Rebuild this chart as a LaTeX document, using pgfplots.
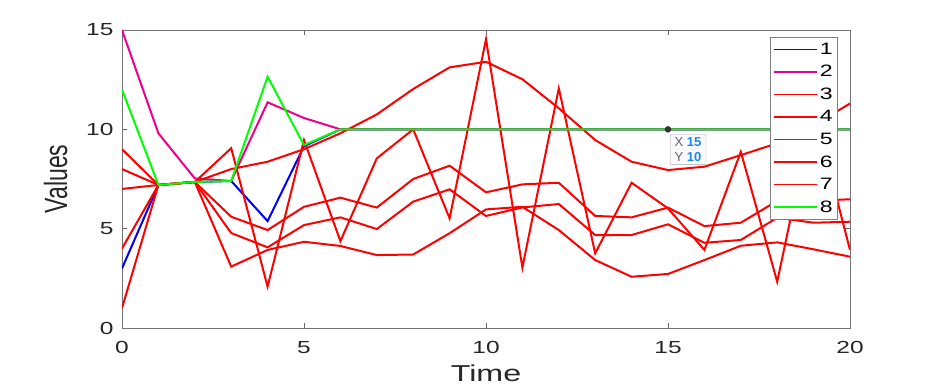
\documentclass[border=0pt]{standalone}
\usepackage{fontspec}
\setmainfont{Liberation Sans}
\usepackage{pgfplots}
\usepackage{pgfplotstable}
\pgfplotsset{compat=1.18}
\usepackage{graphicx}

\definecolor{tipblue}{RGB}{20,140,230}
\newcommand{\tk}[1]{\scalebox{1.4}[1]{#1}}

% columns: time, series 1..8
\pgfplotstableread{
x  s1    s2    s3    s4    s5    s6    s7    s8
0  3     15    9     8     7     4     1     12
1  7.2   9.8   7.2   7.2   7.2   7.2   7.2   7.2
2  7.35  7.53  7.35  7.35  7.35  7.35  7.35  7.35
3  7.4   7.4   9.05  8.0   5.6   4.78  3.09  7.4
4  5.38  11.36 2.08  8.37  4.93  4.06  3.93  12.65
5  9.15  10.57 9.46  9.0   6.1   5.18  4.34  9.21
6  10    10    4.37  9.8   6.56  5.57  4.13  10
7  10    10    8.54  10.75 6.06  4.98  3.67  10
8  10    10    10.0  12.03 7.5   6.36  3.7   10
9  10    10    5.52  13.12 8.17  6.98  4.77  10
10 10    10    14.54 13.4  6.83  5.64  5.97  10
11 10    10    3.04  12.52 7.23  6.07  6.1   10
12 10    10    12.06 11.06 7.31  6.24  4.93  10
13 10    10    3.76  9.46  5.64  4.68  3.42  10
14 10    10    7.31  8.37  5.57  4.68  2.58  10
15 10    10    6.02  7.95  6.06  5.22  2.72  10
16 10    10    3.93  8.12  5.13  4.29  3.42  10
17 10    10    8.87  8.7   5.3   4.43  4.14  10
18 10    10    2.33  9.3   6.4   5.55  4.31  10
19 10    10    11    10.2  6.4   5.3   3.96  10
20 10    10    3.93  11.3  6.48  5.35  3.59  10
}\datatable

\begin{document}
\begin{tikzpicture}
\useasboundingbox (-122pt,-60pt) rectangle (819pt,328pt);
\begin{axis}[
  at={(0,0)}, anchor=south west,
  width=728pt, height=298pt, scale only axis,
  xmin=0, xmax=20, ymin=0, ymax=15,
  xtick={0,5,10,15,20}, ytick={0,5,10,15},
  /pgf/number format/assume math mode=true,
  xticklabel={\tk{\pgfmathprintnumber{\tick}}},
  yticklabel={\tk{\pgfmathprintnumber{\tick}}},
  ticklabel style={font=\fontsize{17.5}{18}\selectfont, text=black!85},
  xticklabel style={yshift=-10pt},
  yticklabel style={xshift=-5pt},
  tick align=inside, major tick length=5pt,
  axis line style={black!55, line width=0.8pt},
  tick style={black!60, line width=0.8pt},
  xlabel={\tk{Time}},
  ylabel={\scalebox{1}[1.4]{Values}},
  label style={font=\fontsize{23}{24}\selectfont, text=black!85},
  xlabel style={yshift=-4pt},
  ylabel style={yshift=12pt},
  every axis plot/.append style={line width=2pt},
  legend cell align=left,
  legend style={at={(1,1)}, anchor=north east, xshift=-12pt, yshift=-7pt,
    draw=black!50, fill=white, line width=0.8pt,
    font=\fontsize{16.5}{17}\selectfont, row sep=5.6pt,
    inner xsep=3pt, inner ysep=3.5pt},
  legend image code/.code={\draw[#1, line width=1.6pt] (0pt,0pt) -- (43pt,0pt);},
]
\addplot[blue]      table[x=x, y=s1] {\datatable};
\addplot[magenta]   table[x=x, y=s2] {\datatable};
\addplot[red]       table[x=x, y=s3] {\datatable};
\addplot[red]       table[x=x, y=s4] {\datatable};
\addplot[red]       table[x=x, y=s5] {\datatable};
\addplot[red]       table[x=x, y=s6] {\datatable};
\addplot[red]       table[x=x, y=s7] {\datatable};
\addplot[green]     table[x=x, y=s8] {\datatable};
\legend{\tk{1},\tk{2},\tk{3},\tk{4},\tk{5},\tk{6},\tk{7},\tk{8}}
\addplot[only marks, mark=*, mark size=2.2pt, black!80, forget plot] coordinates {(15,10)};
\node[draw=black!35, fill=blue!2, rounded corners=1pt, anchor=north west,
  inner xsep=4.5pt, inner ysep=3pt, align=left, font=\fontsize{13}{15}\selectfont]
  at (axis cs:15,10) [xshift=2pt, yshift=-5pt]
  {{\color{black!60}X} {\color{tipblue}\bfseries 15}\\{\color{black!60}Y} {\color{tipblue}\bfseries 10}};
\end{axis}
\end{tikzpicture}
\end{document}
